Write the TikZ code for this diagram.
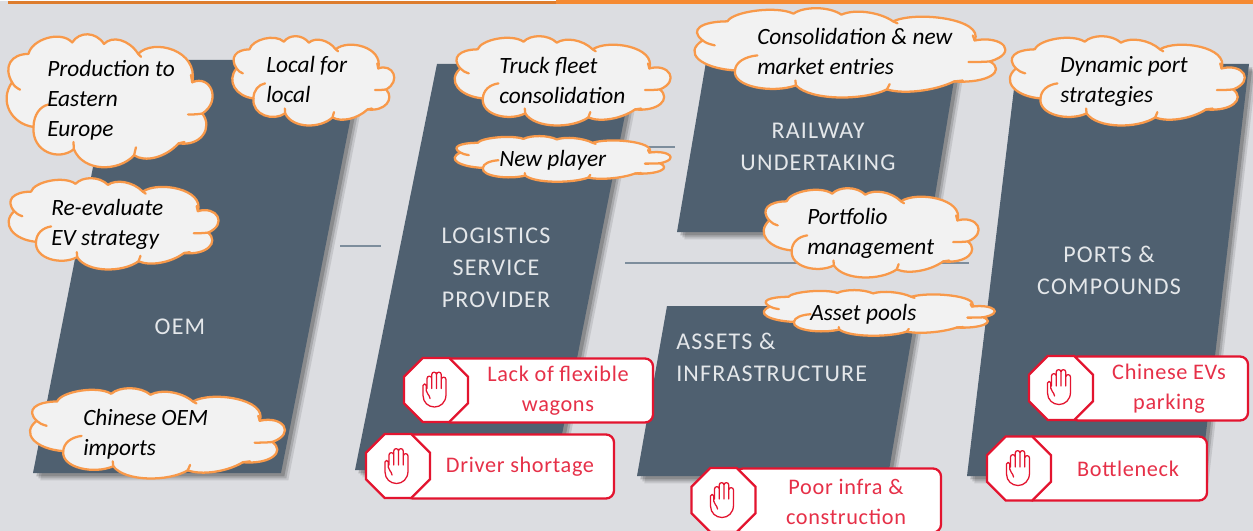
\documentclass[tikz,border=0pt]{standalone}
\usepackage{fontspec}
\setmainfont{Carlito}
\newfontfamily\panelfont[LetterSpace=5]{Carlito}
\newfontfamily\stopfont[LetterSpace=3]{Carlito}
\usepackage{tikz}
\usetikzlibrary{positioning}
\usetikzlibrary{shapes.geometric,shadows}
\definecolor{sheet}{HTML}{DCDDE1}
\definecolor{slate}{HTML}{4F6070}
\definecolor{rule}{HTML}{7D8D9C}
\definecolor{puff}{HTML}{F2F2F2}
\definecolor{puffline}{HTML}{F8994A}
\definecolor{band}{HTML}{F58A32}
\definecolor{alert}{HTML}{E3142F}
\tikzset{
  panel/.style={fill=slate,
    drop shadow={shadow xshift=5.5pt, shadow yshift=-5.5pt, opacity=.1, fill=black},
    drop shadow={shadow xshift=4pt, shadow yshift=-4pt, opacity=.14, fill=black},
    drop shadow={shadow xshift=2.5pt, shadow yshift=-2.5pt, opacity=.18, fill=black}},
  paneltext/.style={text=white!85!slate, font=\panelfont\fontsize{18}{24}\selectfont, align=center, inner sep=0},
  cloudtext/.style={text=black, font=\fontsize{17.5}{22.5}\selectfont\itshape, align=left, anchor=west, inner sep=0},
  stopbox/.style={draw=alert, fill=white, line width=1.7pt, rounded corners=6pt, minimum height=48pt, inner sep=0},
  stopsign/.style={draw=alert, fill=white, line width=1.7pt, regular polygon, regular polygon sides=8, minimum size=52pt, inner sep=0},
  stoptext/.style={text=alert!88!white, font=\stopfont\fontsize{16.7}{22.5}\selectfont, align=center, inner sep=0},
  link/.style={draw=rule, line width=1.1pt},
  handicon/.pic={
    \draw[alert, line width=.95pt, line join=round, line cap=round]
      (-7.5,-1) -- (-7.5,-11) arc[start angle=180, delta angle=180, radius=2.375] -- (-2.75,-1)
      (-2.75,-11) -- (-2.75,-15) arc[start angle=180, delta angle=180, radius=2.375] -- (2,-1)
      (2,-15) arc[start angle=180, delta angle=180, radius=2.375] -- (6.75,-1)
      (6.75,-10) arc[start angle=180, delta angle=180, radius=2.375] -- (11.5,5)
        .. controls (11.5,13) and (6,17.5) .. (0,17.5)
        .. controls (-6,17.5) and (-11.5,13) .. (-11.5,6) -- (-11.5,-4)
        arc[start angle=180, delta angle=180, radius=1.6] -- (-8.3,1)
        .. controls (-8.3,4) and (-5,5) .. (-4.5,9);
  }
}
\newcommand{\cloudshape}[5]{
  \begin{scope}[xshift=#2*0.75pt, yshift=-#3*0.75pt, x=#4*0.0075pt, y=-#5*0.0075pt]
    \coordinate (#1) at (50,50);
    \draw[fill=puff, draw=puffline, line width=1.7pt, line join=round]
      (3.4,36) .. controls (-1,24) and (3,15) .. (11.4,14.8)
      .. controls (13,4) and (27,-3) .. (32.6,6.3)
      .. controls (36,-2) and (44,-2) .. (48,7.4)
      .. controls (52,1) and (60,4) .. (64.6,14.8)
      .. controls (72,3) and (94,12) .. (90.8,36)
      .. controls (100,30) and (105,50) .. (95.7,59.3)
      .. controls (101,70) and (95,84) .. (84.2,81.5)
      .. controls (78,92) and (68,96) .. (62.6,90.4)
      .. controls (55,103) and (38,103) .. (33.4,85.9)
      .. controls (26,95) and (13,88) .. (13.8,69.3)
      .. controls (3,67) and (-3,50) .. (3.4,36) -- cycle;
    \draw[draw=puffline, line width=1.7pt, line cap=round]
      (3.4,36) .. controls (4.5,39) and (5.5,40) .. (7.3,41.5)
      (13.8,69.3) .. controls (14,60) and (17,54) .. (21,52.6)
      (33.4,85.9) -- (33.2,80.5)
      (62.6,90.4) -- (63.5,84.5)
      (84.2,81.5) -- (87,80.5)
      (95.7,59.3) .. controls (93,60) and (91,60) .. (88.8,60)
      (90.8,36) -- (90.2,30.5)
      (64.6,14.8) -- (66,17);
  \end{scope}
}
\begin{document}
\begin{tikzpicture}[x=0.75pt,y=-0.75pt]
  \useasboundingbox (0,0) rectangle (1253,531);
  \fill[sheet] (0,0) rectangle (1253,531);
  \fill[white!90!sheet] (0,0) rectangle (556,1.5);
  \fill[band!90!black] (8,1.5) rectangle (556,4.2);
  \fill[band] (556,0) rectangle (1253,4.5);

  \fill[panel] (114,60) -- (362,60) -- (281,473) -- (33,473) -- cycle;
  \fill[panel] (437,64) -- (635,64) -- (555,470) -- (355,470) -- cycle;
  \fill[panel] (706,62) -- (957,62) -- (929,232) -- (677,232) -- cycle;
  \fill[panel] (667,306) -- (917,306) -- (888,476) -- (637,476) -- cycle;
  \fill[panel] (1017,64) -- (1249,64) -- (1201,476) -- (967,476) -- cycle;

  \coordinate (oemlink) at (340,246);
  \coordinate (lsplink) at (381,246);
  \coordinate (railstart) at (640,147);
  \coordinate (railend) at (675,147);
  \coordinate (splitstart) at (625,263);
  \coordinate (splitend) at (969,263);
  \draw[link] (oemlink) -- (lsplink);
  \draw[link] (railstart) -- (railend);
  \draw[link] (splitstart) -- (splitend);

  \node[paneltext] (oem) at (180,327) {OEM};
  \node[paneltext] (lsp) at (496,268) {LOGISTICS\\SERVICE\\PROVIDER};
  \node[paneltext] (rail) at (818,147) {RAILWAY\\UNDERTAKING};
  \node[paneltext, align=left, anchor=west] (assets) at (676,357) {ASSETS \&\\INFRASTRUCTURE};
  \node[paneltext] (ports) at (1109,270) {PORTS \&\\COMPOUNDS};

  \node[stopbox, minimum width=157.5pt] (lack) at (548,390.5) {};
  \node[stopsign] (lackstop) at (436,390) {};
  \pic at (434.5,389.5) {handicon};
  \node[stoptext] (lacktext) at (558,391) {Lack of flexible\\wagons};

  \node[stopbox, minimum width=156.75pt] (driver) at (509.5,466.5) {};
  \node[stopsign] (driverstop) at (398,466) {};
  \pic at (396.5,466) {handicon};
  \node[stoptext] (drivertext) at (520,467) {Driver shortage};

  \node[stopbox, minimum width=133.5pt] (evs) at (1159,388.5) {};
  \node[stopsign] (evsstop) at (1061,388) {};
  \pic at (1059,387) {handicon};
  \node[stoptext] (evstext) at (1169,389) {Chinese EVs\\parking};

  \node[stopbox, minimum width=136.5pt] (neck) at (1116,468.5) {};
  \node[stopsign] (neckstop) at (1019,468.5) {};
  \pic at (1018,468) {handicon};
  \node[stoptext] (necktext) at (1128,469) {Bottleneck};

  \node[stopbox, minimum width=154.5pt] (infra) at (838,500.5) {};
  \node[stopsign] (infrastop) at (723.5,500) {};
  \pic at (722,500) {handicon};
  \node[stoptext] (infratext) at (846,502) {Poor infra \&\\construction};

  \cloudshape{prod}{5}{34}{206}{134}
  \node[cloudtext] (prodtext) at (47,100) {Production to\\Eastern\\Europe};
  \cloudshape{local}{231}{36}{162}{90}
  \node[cloudtext] (localtext) at (266,79) {Local for\\local};
  \cloudshape{eval}{7}{178}{210}{92}
  \node[cloudtext] (evaltext) at (51,224) {Re-evaluate\\EV strategy};
  \cloudshape{import}{28}{388}{255}{91}
  \node[cloudtext] (importtext) at (83,434) {Chinese OEM\\imports};
  \cloudshape{truck}{453}{36}{216}{90}
  \node[cloudtext] (trucktext) at (499,80) {Truck fleet\\consolidation};
  \cloudshape{player}{453}{136}{216}{46}
  \node[cloudtext] (playertext) at (499,160) {New player};
  \cloudshape{entry}{692}{8}{311}{90}
  \node[cloudtext] (entrytext) at (757,51) {Consolidation \& new\\market entries};
  \cloudshape{folio}{762}{188}{215}{90}
  \node[cloudtext] (foliotext) at (807,233) {Portfolio\\management};
  \cloudshape{pool}{762}{290}{231}{46}
  \node[cloudtext] (pooltext) at (810,314) {Asset pools};
  \cloudshape{dyn}{1008}{36}{235}{90}
  \node[cloudtext] (dyntext) at (1060,81) {Dynamic port\\strategies};
\end{tikzpicture}
\end{document}
